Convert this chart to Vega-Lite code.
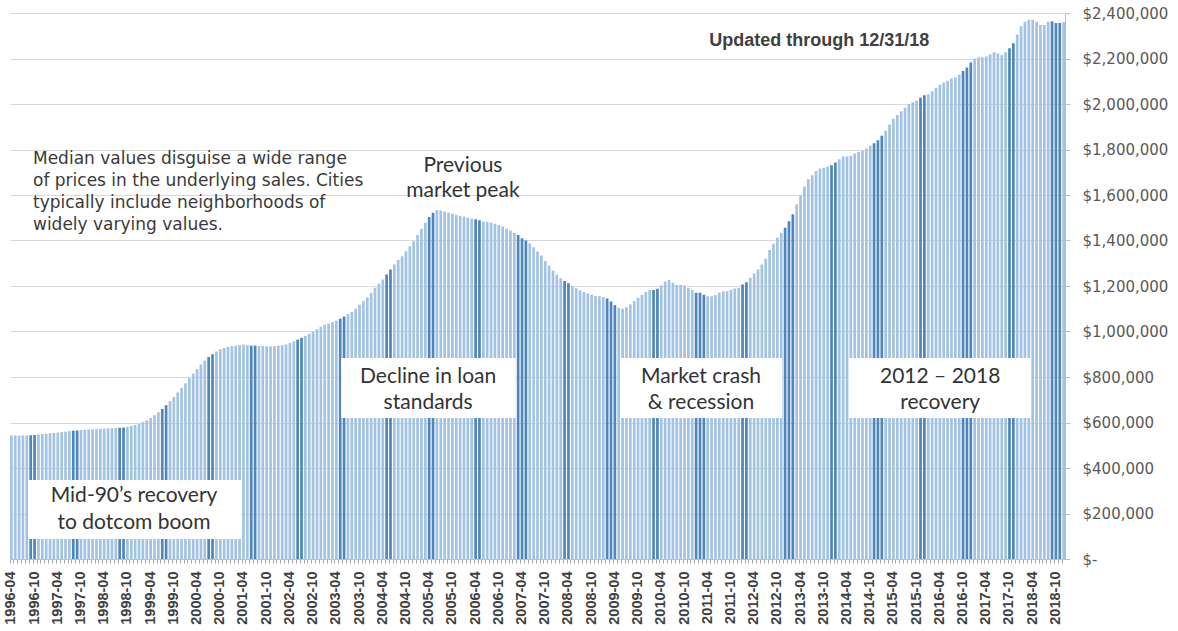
{
"$schema": "https://vega.github.io/schema/vega-lite/v6.json",
"width": 1055, "height": 546,
"autosize": {"type": "none"},
"padding": {"left": 10, "top": 13, "right": 113, "bottom": 72},
"background": "white",
"config": {"view": {"stroke": null}, "font": "Lato"},
"datasets": {
"prices": [
{"month":"1996-04","price":543000},{"month":"1996-05","price":543000},{"month":"1996-06","price":543000},{"month":"1996-07","price":543000},{"month":"1996-08","price":543000},{"month":"1996-09","price":544000},{"month":"1996-10","price":545000},{"month":"1996-11","price":547000},{"month":"1996-12","price":549000},
{"month":"1997-01","price":551000},{"month":"1997-02","price":553000},{"month":"1997-03","price":554000},{"month":"1997-04","price":556000},{"month":"1997-05","price":558000},{"month":"1997-06","price":560000},{"month":"1997-07","price":562000},{"month":"1997-08","price":564000},{"month":"1997-09","price":565000},{"month":"1997-10","price":567000},{"month":"1997-11","price":568000},{"month":"1997-12","price":569000},
{"month":"1998-01","price":570000},{"month":"1998-02","price":571000},{"month":"1998-03","price":572000},{"month":"1998-04","price":573000},{"month":"1998-05","price":574000},{"month":"1998-06","price":575000},{"month":"1998-07","price":576000},{"month":"1998-08","price":577000},{"month":"1998-09","price":578000},{"month":"1998-10","price":581000},{"month":"1998-11","price":585000},{"month":"1998-12","price":589000},
{"month":"1999-01","price":595000},{"month":"1999-02","price":602000},{"month":"1999-03","price":610000},{"month":"1999-04","price":620000},{"month":"1999-05","price":632000},{"month":"1999-06","price":645000},{"month":"1999-07","price":660000},{"month":"1999-08","price":676000},{"month":"1999-09","price":694000},{"month":"1999-10","price":712000},{"month":"1999-11","price":732000},{"month":"1999-12","price":752000},
{"month":"2000-01","price":772000},{"month":"2000-02","price":795000},{"month":"2000-03","price":815000},{"month":"2000-04","price":835000},{"month":"2000-05","price":855000},{"month":"2000-06","price":872000},{"month":"2000-07","price":888000},{"month":"2000-08","price":900000},{"month":"2000-09","price":912000},{"month":"2000-10","price":922000},{"month":"2000-11","price":928000},{"month":"2000-12","price":932000},
{"month":"2001-01","price":936000},{"month":"2001-02","price":938000},{"month":"2001-03","price":940000},{"month":"2001-04","price":942000},{"month":"2001-05","price":940000},{"month":"2001-06","price":938000},{"month":"2001-07","price":938000},{"month":"2001-08","price":937000},{"month":"2001-09","price":936000},{"month":"2001-10","price":935000},{"month":"2001-11","price":935000},{"month":"2001-12","price":936000},
{"month":"2002-01","price":938000},{"month":"2002-02","price":940000},{"month":"2002-03","price":943000},{"month":"2002-04","price":950000},{"month":"2002-05","price":957000},{"month":"2002-06","price":964000},{"month":"2002-07","price":972000},{"month":"2002-08","price":980000},{"month":"2002-09","price":990000},{"month":"2002-10","price":1000000},{"month":"2002-11","price":1010000},{"month":"2002-12","price":1020000},
{"month":"2003-01","price":1030000},{"month":"2003-02","price":1035000},{"month":"2003-03","price":1041000},{"month":"2003-04","price":1048000},{"month":"2003-05","price":1056000},{"month":"2003-06","price":1066000},{"month":"2003-07","price":1077000},{"month":"2003-08","price":1086000},{"month":"2003-09","price":1100000},{"month":"2003-10","price":1118000},{"month":"2003-11","price":1133000},{"month":"2003-12","price":1150000},
{"month":"2004-01","price":1170000},{"month":"2004-02","price":1192000},{"month":"2004-03","price":1210000},{"month":"2004-04","price":1229000},{"month":"2004-05","price":1251000},{"month":"2004-06","price":1273000},{"month":"2004-07","price":1295000},{"month":"2004-08","price":1314000},{"month":"2004-09","price":1331000},{"month":"2004-10","price":1353000},{"month":"2004-11","price":1375000},{"month":"2004-12","price":1397000},
{"month":"2005-01","price":1424000},{"month":"2005-02","price":1452000},{"month":"2005-03","price":1478000},{"month":"2005-04","price":1503000},{"month":"2005-05","price":1522000},{"month":"2005-06","price":1534000},{"month":"2005-07","price":1532000},{"month":"2005-08","price":1527000},{"month":"2005-09","price":1522000},{"month":"2005-10","price":1518000},{"month":"2005-11","price":1512000},{"month":"2005-12","price":1508000},
{"month":"2006-01","price":1505000},{"month":"2006-02","price":1500000},{"month":"2006-03","price":1497000},{"month":"2006-04","price":1493000},{"month":"2006-05","price":1489000},{"month":"2006-06","price":1484000},{"month":"2006-07","price":1481000},{"month":"2006-08","price":1478000},{"month":"2006-09","price":1474000},{"month":"2006-10","price":1468000},{"month":"2006-11","price":1461000},{"month":"2006-12","price":1452000},
{"month":"2007-01","price":1444000},{"month":"2007-02","price":1434000},{"month":"2007-03","price":1424000},{"month":"2007-04","price":1410000},{"month":"2007-05","price":1400000},{"month":"2007-06","price":1388000},{"month":"2007-07","price":1370000},{"month":"2007-08","price":1352000},{"month":"2007-09","price":1334000},{"month":"2007-10","price":1310000},{"month":"2007-11","price":1290000},{"month":"2007-12","price":1268000},
{"month":"2008-01","price":1250000},{"month":"2008-02","price":1234000},{"month":"2008-03","price":1222000},{"month":"2008-04","price":1212000},{"month":"2008-05","price":1200000},{"month":"2008-06","price":1190000},{"month":"2008-07","price":1181000},{"month":"2008-08","price":1173000},{"month":"2008-09","price":1167000},{"month":"2008-10","price":1161000},{"month":"2008-11","price":1156000},{"month":"2008-12","price":1155000},
{"month":"2009-01","price":1152000},{"month":"2009-02","price":1145000},{"month":"2009-03","price":1132000},{"month":"2009-04","price":1116000},{"month":"2009-05","price":1104000},{"month":"2009-06","price":1100000},{"month":"2009-07","price":1107000},{"month":"2009-08","price":1119000},{"month":"2009-09","price":1133000},{"month":"2009-10","price":1148000},{"month":"2009-11","price":1160000},{"month":"2009-12","price":1174000},
{"month":"2010-01","price":1182000},{"month":"2010-02","price":1182000},{"month":"2010-03","price":1188000},{"month":"2010-04","price":1202000},{"month":"2010-05","price":1220000},{"month":"2010-06","price":1226000},{"month":"2010-07","price":1214000},{"month":"2010-08","price":1204000},{"month":"2010-09","price":1204000},{"month":"2010-10","price":1202000},{"month":"2010-11","price":1192000},{"month":"2010-12","price":1182000},
{"month":"2011-01","price":1170000},{"month":"2011-02","price":1170000},{"month":"2011-03","price":1161000},{"month":"2011-04","price":1155000},{"month":"2011-05","price":1155000},{"month":"2011-06","price":1160000},{"month":"2011-07","price":1170000},{"month":"2011-08","price":1177000},{"month":"2011-09","price":1177000},{"month":"2011-10","price":1182000},{"month":"2011-11","price":1189000},{"month":"2011-12","price":1192000},
{"month":"2012-01","price":1207000},{"month":"2012-02","price":1217000},{"month":"2012-03","price":1236000},{"month":"2012-04","price":1255000},{"month":"2012-05","price":1273000},{"month":"2012-06","price":1295000},{"month":"2012-07","price":1320000},{"month":"2012-08","price":1358000},{"month":"2012-09","price":1386000},{"month":"2012-10","price":1412000},{"month":"2012-11","price":1434000},{"month":"2012-12","price":1456000},
{"month":"2013-01","price":1485000},{"month":"2013-02","price":1515000},{"month":"2013-03","price":1559000},{"month":"2013-04","price":1599000},{"month":"2013-05","price":1637000},{"month":"2013-06","price":1669000},{"month":"2013-07","price":1687000},{"month":"2013-08","price":1706000},{"month":"2013-09","price":1716000},{"month":"2013-10","price":1720000},{"month":"2013-11","price":1725000},{"month":"2013-12","price":1731000},
{"month":"2014-01","price":1743000},{"month":"2014-02","price":1757000},{"month":"2014-03","price":1769000},{"month":"2014-04","price":1769000},{"month":"2014-05","price":1772000},{"month":"2014-06","price":1782000},{"month":"2014-07","price":1789000},{"month":"2014-08","price":1794000},{"month":"2014-09","price":1804000},{"month":"2014-10","price":1816000},{"month":"2014-11","price":1828000},{"month":"2014-12","price":1841000},
{"month":"2015-01","price":1860000},{"month":"2015-02","price":1882000},{"month":"2015-03","price":1910000},{"month":"2015-04","price":1935000},{"month":"2015-05","price":1952000},{"month":"2015-06","price":1968000},{"month":"2015-07","price":1983000},{"month":"2015-08","price":2000000},{"month":"2015-09","price":2008000},{"month":"2015-10","price":2014000},{"month":"2015-11","price":2028000},{"month":"2015-12","price":2038000},
{"month":"2016-01","price":2043000},{"month":"2016-02","price":2056000},{"month":"2016-03","price":2071000},{"month":"2016-04","price":2085000},{"month":"2016-05","price":2094000},{"month":"2016-06","price":2102000},{"month":"2016-07","price":2112000},{"month":"2016-08","price":2117000},{"month":"2016-09","price":2130000},{"month":"2016-10","price":2145000},{"month":"2016-11","price":2160000},{"month":"2016-12","price":2182000},
{"month":"2017-01","price":2200000},{"month":"2017-02","price":2205000},{"month":"2017-03","price":2205000},{"month":"2017-04","price":2209000},{"month":"2017-05","price":2219000},{"month":"2017-06","price":2227000},{"month":"2017-07","price":2222000},{"month":"2017-08","price":2215000},{"month":"2017-09","price":2227000},{"month":"2017-10","price":2245000},{"month":"2017-11","price":2267000},{"month":"2017-12","price":2305000},
{"month":"2018-01","price":2342000},{"month":"2018-02","price":2362000},{"month":"2018-03","price":2370000},{"month":"2018-04","price":2370000},{"month":"2018-05","price":2362000},{"month":"2018-06","price":2347000},{"month":"2018-07","price":2347000},{"month":"2018-08","price":2362000},{"month":"2018-09","price":2364000},{"month":"2018-10","price":2356000},{"month":"2018-11","price":2356000},{"month":"2018-12","price":2360000}
],
"boxes": [
{"x0": 4.7, "x1": 59.8, "y0": 88000, "y1": 347000},
{"x0": 85.7, "x1": 130.9, "y0": 620000, "y1": 883000},
{"x0": 157.9, "x1": 199.8, "y0": 620000, "y1": 883000},
{"x0": 217.1, "x1": 264.2, "y0": 620000, "y1": 883000}
],
"bigText": [
{"x": 32.1, "y": 277000, "t": "Mid-90’s recovery"},
{"x": 32.1, "y": 158000, "t": "to dotcom boom"},
{"x": 108.2, "y": 800000, "t": "Decline in loan"},
{"x": 108.2, "y": 686000, "t": "standards"},
{"x": 178.8, "y": 800000, "t": "Market crash"},
{"x": 178.8, "y": 686000, "t": "& recession"},
{"x": 240.7, "y": 800000, "t": "2012 – 2018"},
{"x": 240.7, "y": 686000, "t": "recovery"},
{"x": 117.2, "y": 1727000, "t": "Previous"},
{"x": 117.2, "y": 1618000, "t": "market peak"}
],
"para": [
{"x": 5.95, "y": 1758000, "t": "Median values disguise a wide range"},
{"x": 5.95, "y": 1662000, "t": "of prices in the underlying sales. Cities"},
{"x": 5.95, "y": 1565000, "t": "typically include neighborhoods of"},
{"x": 5.95, "y": 1468000, "t": "widely varying values."}
],
"note": [
{"x": 209.4, "y": 2277000, "t": "Updated through 12/31/18"}
]
},
"layer": [
{
"data": {"name": "prices"},
"transform": [{"window": [{"op": "row_number", "as": "idx"}]}],
"mark": {"type": "bar"},
"encoding": {
"x": {"field": "month", "type": "ordinal", "sort": "ascending", "title": null,
"scale": {"paddingInner": 0.3, "paddingOuter": 0},
"axis": {"labelExpr": "(substring(datum.value,5,7)=='04' || substring(datum.value,5,7)=='10') ? datum.value : ''",
"labelAngle": -90, "labelOverlap": false, "labelFont": "Liberation Sans", "labelFontWeight": "bold", "labelFontSize": 14.5, "labelColor": "#404040",
"labelPadding": 8, "tickSize": 4, "tickColor": "#a6a6a6", "domainColor": "#bfbfbf", "grid": false, "bandPosition": 0}},
"y": {"field": "price", "type": "quantitative", "title": null,
"scale": {"domain": [0, 2400000], "nice": false},
"axis": {"orient": "right", "values": [0,200000,400000,600000,800000,1000000,1200000,1400000,1600000,1800000,2000000,2200000,2400000],
"labelExpr": "datum.value == 0 ? '$-' : '$' + format(datum.value, ',')",
"labelFont": "DejaVu Sans", "labelFontSize": 15, "labelColor": "#595959", "labelPadding": 12, "tickSize": 5, "tickColor": "#bfbfbf", "domainColor": "#bfbfbf",
"grid": true, "gridColor": "#d9d9d9"}},
"color": {"condition": {"test": "abs(((datum.idx - 0.545) % 11.51) - 5.755) < 1.1", "value": "#4f86bb"}, "value": "#a3c3e2"}
}
},
{
"data": {"name": "boxes"},
"mark": {"type": "rect", "fill": "white"},
"encoding": {
"x": {"field": "x0", "type": "quantitative", "scale": {"domain": [0, 273]}, "axis": null},
"x2": {"field": "x1"},
"y": {"field": "y0", "type": "quantitative", "title": null},
"y2": {"field": "y1"}
}
},
{
"data": {"name": "bigText"},
"mark": {"type": "text", "font": "Lato", "fontSize": 21, "color": "#333333", "align": "center", "baseline": "middle"},
"encoding": {
"x": {"field": "x", "type": "quantitative", "scale": {"domain": [0, 273]}, "axis": null},
"y": {"field": "y", "type": "quantitative", "title": null},
"text": {"field": "t"}
}
},
{
"data": {"name": "para"},
"mark": {"type": "text", "font": "DejaVu Sans", "fontSize": 17, "color": "#3a3a3a", "align": "left", "baseline": "middle"},
"encoding": {
"x": {"field": "x", "type": "quantitative", "scale": {"domain": [0, 273]}, "axis": null},
"y": {"field": "y", "type": "quantitative", "title": null},
"text": {"field": "t"}
}
},
{
"data": {"name": "note"},
"mark": {"type": "text", "font": "Liberation Sans", "fontSize": 18, "fontWeight": "bold", "color": "#404040", "align": "center", "baseline": "middle"},
"encoding": {
"x": {"field": "x", "type": "quantitative", "scale": {"domain": [0, 273]}, "axis": null},
"y": {"field": "y", "type": "quantitative", "title": null},
"text": {"field": "t"}
}
}
],
"resolve": {"scale": {"x": "independent"}}
}
